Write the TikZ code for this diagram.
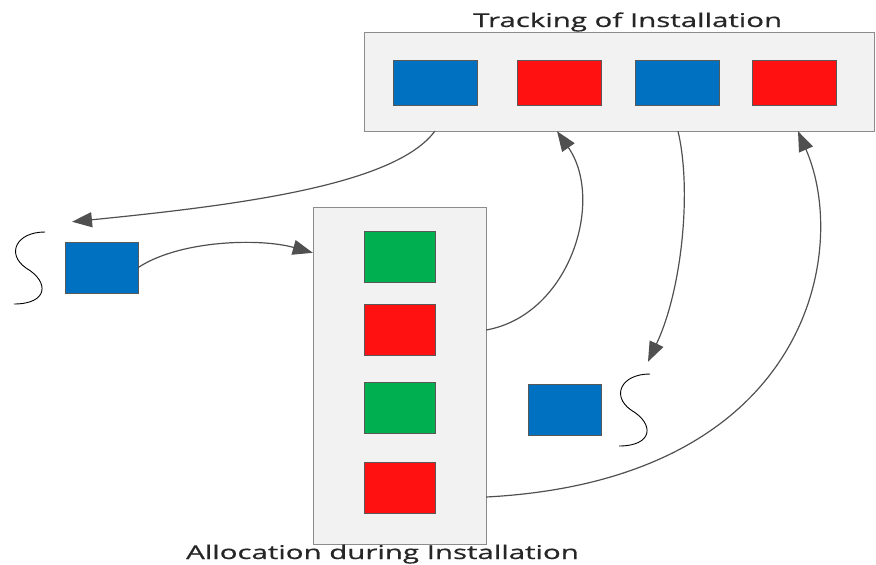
\documentclass[tikz,border=0pt]{standalone}
\usepackage{fontspec}
\usepackage{graphicx}
\setmainfont{Open Sans}
\newfontfamily\capfont{Open Sans}[FakeBold=0.6]
\usetikzlibrary{arrows.meta}
\definecolor{sqblue}{HTML}{0070C0}
\definecolor{sqred}{HTML}{FF1111}
\definecolor{sqgreen}{HTML}{00B050}
\definecolor{linkgray}{HTML}{505050}
\def\sqw{73pt}
\def\sqh{51pt}
\newcommand\widecap[1]{\scalebox{1.55}[1]{#1}}
\tikzset{
  panel/.style={draw=black!45, fill=black!5, inner sep=0pt},
  cell/.style={draw=black!65, line width=0.5pt, minimum width=\sqw, minimum height=\sqh, inner sep=0pt},
  link/.style={draw=linkgray, line width=1.2pt, -{Triangle[length=20pt,width=15pt]}},
  squig/.style={black, line width=0.9pt},
  caption/.style={font=\capfont\fontsize{19}{22}\selectfont, text=black!85, inner sep=0pt}
}

\begin{document}
\begin{tikzpicture}[x=1pt,y=-1pt]
\useasboundingbox (0,0) rectangle (876,565);

\node[panel, minimum width=510pt, minimum height=99pt] (track) at (619,81.5) {};
\node[caption, anchor=base west] (tracktitle) at (473,27) {\widecap{Tracking of Installation}};
\foreach \x/\c [count=\i] in {435/sqblue,559/sqred,677/sqblue,794.5/sqred}{
  \node[cell, fill=\c, minimum width=84pt, minimum height=45pt] (t\i) at (\x,82.5) {};
}

\node[panel, minimum width=173pt, minimum height=337pt] (alloc) at (399.5,375.5) {};
\node[caption, anchor=base west] (alloctitle) at (186,559) {\widecap{Allocation during Installation}};
\foreach \y/\c [count=\i] in {256.5/sqgreen,329.5/sqred,408/sqgreen,488/sqred}{
  \node[cell, fill=\c, minimum width=71pt] (a\i) at (399.5,\y) {};
}

\node[cell, fill=sqblue] (lsq) at (101.5,267.5) {};
\node[cell, fill=sqblue] (rsq) at (564.5,409.5) {};

\foreach \p in {(12,232),(617,374)}{
  \draw[squig, shift={\p}] (33,0) .. controls (4,0) and (-6,22) .. (14,36)
    .. controls (38,50) and (36,72) .. (2,72);
}

\draw[link] ([xshift=71pt]track.south west) .. controls (395,185) and (240,205) .. ([xshift=-29.5pt,yshift=20pt]lsq.north);
\draw[link] (lsq.east) .. controls (180,240) and (260,238) .. ([yshift=-46pt]alloc.north west);
\draw[link] ([yshift=45.5pt]alloc.east) .. controls (570,315) and (605,200) .. ([xshift=-62pt]track.south);
\draw[link] ([xshift=59pt]track.south) .. controls (692,190) and (682,290) .. ([xshift=83.5pt,yshift=22pt]rsq.north);
\draw[link] ([yshift=-121.5pt]alloc.east) .. controls (810,480) and (850,250) .. ([xshift=179pt]track.south);

\end{tikzpicture}
\end{document}
